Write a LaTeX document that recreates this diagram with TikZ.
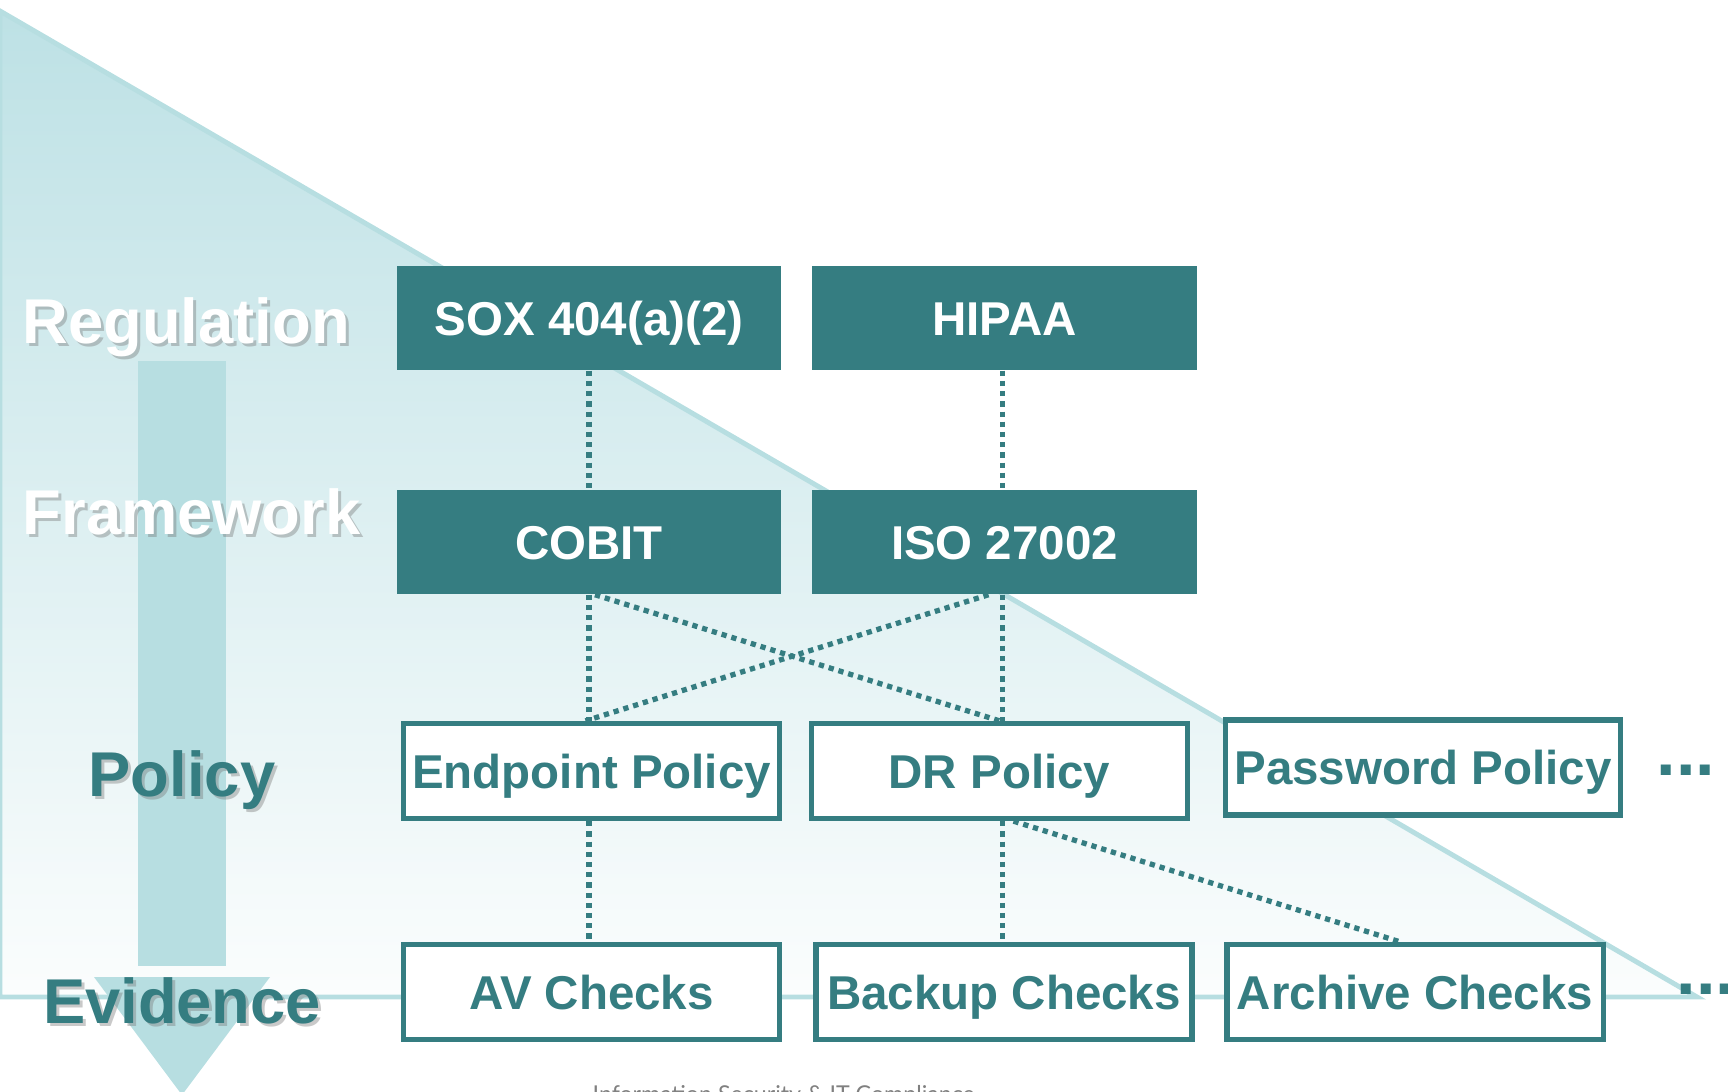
\documentclass[tikz,border=0pt]{standalone}
\usepackage{fontspec}
\setmainfont{Liberation Sans}
\newfontfamily\footfont{Lato}
\usetikzlibrary{positioning,calc}

\definecolor{tealdark}{RGB}{53,125,129}
\definecolor{teallight}{RGB}{183,222,225}
\definecolor{tealtop}{RGB}{189,225,229}
\definecolor{tealbottom}{RGB}{251,253,253}
\definecolor{shadowgray}{RGB}{120,120,120}

\begin{document}
\begin{tikzpicture}[x=0.01cm,y=-0.01cm,
  solidbox/.style={rectangle, fill=tealdark, text=white, inner sep=0pt,
    minimum width=3.84cm, minimum height=1.04cm,
    font=\fontsize{13.5}{16}\selectfont\bfseries, text height=0.34cm, text depth=0pt},
  openbox/.style={rectangle, draw=tealdark, line width=1.5pt, fill=white, text=tealdark,
    inner sep=0pt, minimum width=3.76cm, minimum height=0.95cm,
    font=\fontsize{13.5}{16}\selectfont\bfseries, text height=0.34cm, text depth=0pt},
  link/.style={draw=tealdark, line width=1.5pt, dash pattern=on 1.5pt off 1.4pt},
  level/.style={font=\fontsize{18}{21}\selectfont\bfseries, inner sep=0pt},
  levelshadow/.style={level, text=shadowgray, opacity=0.4},
]
\clip (0,0) rectangle (1728,1091);

% background wedge and the downward arrow
\path[top color=tealtop, bottom color=tealbottom, draw=teallight, line width=1.4pt]
  (0,11) -- (1697,997) -- (0,997) -- cycle;
\fill[teallight] (138,361) rectangle (226,966);
\fill[teallight] (94,977) -- (270,977) -- (182,1095) -- cycle;

% level names
\node[levelshadow, anchor=base west] (regS) at (25,346) {Regulation};
\node[level, text=white, anchor=base west] (reg) at (22,343) {Regulation};
\node[levelshadow, anchor=base west] (fwS) at (25,537) {Framework};
\node[level, text=white, anchor=base west] (fw) at (22,534) {Framework};
\node[levelshadow, anchor=base] (polS) at (185,799) {Policy};
\node[level, text=tealdark, anchor=base] (pol) at (182,796) {Policy};
\node[levelshadow, anchor=base] (evS) at (185,1026) {Evidence};
\node[level, text=tealdark, anchor=base] (ev) at (182,1023) {Evidence};

% boxes
\node[solidbox] (R1) at (589,318) {SOX 404(a)(2)};
\node[solidbox] (R2) at (1004.5,318) {HIPAA};
\node[solidbox] (F1) at (589,542) {COBIT};
\node[solidbox] (F2) at (1004.5,542) {ISO 27002};
\node[openbox] (P1) at (591.5,771) {Endpoint Policy};
\node[openbox] (P2) at (999.5,771) {DR Policy};
\node[openbox, minimum width=3.95cm] (P3) at (1423,767.5) {Password Policy};
\node[openbox] (E1) at (591.5,992) {AV Checks};
\node[openbox] (E2) at (1004,992) {Backup Checks};
\node[openbox] (E3) at (1415,992) {Archive Checks};

% mappings
\draw[link] (R1.south) -- (R1.south |- F1.north);
\draw[link] ($(R2.south)+(-2,0)$) -- ($(R2.south |- F2.north)+(-2,0)$);
\draw[link] (F1.south) -- (F1.south |- P1.north);
\draw[link] ($(F1.south)+(6,0)$) -- (P2.north);
\draw[link] ($(F2.south)+(-16,0)$) -- ($(P1.north)+(-6,0)$);
\draw[link] ($(F2.south)+(-2,0)$) -- ($(F2.south |- P2.north)+(-2,0)$);
\draw[link] (F1.south |- P1.south) -- (F1.south |- E1.north);
\draw[link] ($(F2.south |- P2.south)+(-2,0)$) -- ($(F2.south |- E2.north)+(-2,0)$);
\draw[link] ($(P2.south)+(14,0)$) -- ($(E3.north)+(-15,0)$);

\node[font=\fontsize{20}{20}\selectfont\bfseries, text=tealdark, inner sep=0pt, anchor=base west] (moreP) at (1656,775) {...};
\node[font=\fontsize{20}{20}\selectfont\bfseries, text=tealdark, inner sep=0pt, anchor=base west] (moreE) at (1676,994) {...};

\node[font=\footfont\fontsize{6.6}{8}\selectfont, text=gray, inner sep=0pt, anchor=north west] (foot) at (592,1085) {Information Security \& IT Compliance};
\end{tikzpicture}
\end{document}
